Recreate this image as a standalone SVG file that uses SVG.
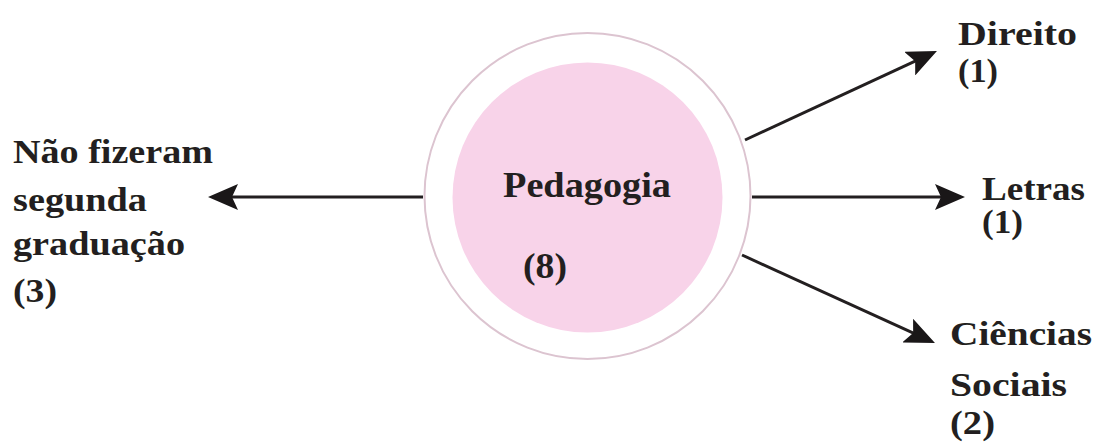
<svg xmlns="http://www.w3.org/2000/svg" width="1094" height="443" viewBox="0 0 1094 443">
  <style>
    .t { font-family: "Liberation Serif", "Times New Roman", serif; font-weight: bold; fill: #231f20; }
    .s { font-size: 33px; }
    .c { font-size: 36px; }
    .conn { stroke: #231f20; stroke-width: 3; fill: none; }
  </style>
  <defs>
    <marker id="arrow" viewBox="0 0 30 26" refX="22" refY="13" markerWidth="30" markerHeight="26" markerUnits="userSpaceOnUse" orient="auto">
      <path d="M0,0 L30,13 L0,26 L6,13 Z" fill="#1a1718"/>
    </marker>
  </defs>
  <rect width="1094" height="443" fill="#ffffff"/>

  <g id="connectors">
    <line class="conn" x1="423" y1="197" x2="216" y2="197" marker-end="url(#arrow)"/>
    <line class="conn" x1="745" y1="140" x2="929.7" y2="54.4" stroke-width="2.6" marker-end="url(#arrow)"/>
    <line class="conn" x1="752" y1="197" x2="957" y2="197" marker-end="url(#arrow)"/>
    <line class="conn" x1="742" y1="255" x2="927.7" y2="339.7" stroke-width="2.6" marker-end="url(#arrow)"/>
  </g>

  <g id="node-pedagogia">
    <circle cx="587.5" cy="196" r="163" fill="#ffffff" stroke="#dcc4d0" stroke-width="2"/>
    <circle cx="587.5" cy="197.5" r="135" fill="#f8d3e9"/>
    <text class="t c" x="503" y="197" textLength="168" lengthAdjust="spacingAndGlyphs">Pedagogia</text>
    <text class="t c" x="523" y="278" textLength="44" lengthAdjust="spacingAndGlyphs">(8)</text>
  </g>

  <g id="node-nao-fizeram">
    <text class="t s" x="13" y="163" textLength="200" lengthAdjust="spacingAndGlyphs">Não fizeram</text>
    <text class="t s" x="13" y="211" textLength="134" lengthAdjust="spacingAndGlyphs">segunda</text>
    <text class="t s" x="13" y="255" textLength="172" lengthAdjust="spacingAndGlyphs">graduação</text>
    <text class="t s" x="13" y="302" textLength="44" lengthAdjust="spacingAndGlyphs">(3)</text>
  </g>

  <g id="node-direito">
    <text class="t s" x="958" y="45" textLength="119" lengthAdjust="spacingAndGlyphs">Direito</text>
    <text class="t s" x="958" y="82" textLength="40" lengthAdjust="spacingAndGlyphs">(1)</text>
  </g>

  <g id="node-letras">
    <text class="t s" x="982" y="200" textLength="103" lengthAdjust="spacingAndGlyphs">Letras</text>
    <text class="t s" x="982" y="233" textLength="41" lengthAdjust="spacingAndGlyphs">(1)</text>
  </g>

  <g id="node-ciencias-sociais">
    <text class="t s" x="950" y="345" textLength="142" lengthAdjust="spacingAndGlyphs">Ciências</text>
    <text class="t s" x="950" y="396" textLength="117" lengthAdjust="spacingAndGlyphs">Sociais</text>
    <text class="t s" x="950" y="434" textLength="45" lengthAdjust="spacingAndGlyphs">(2)</text>
  </g>
</svg>
